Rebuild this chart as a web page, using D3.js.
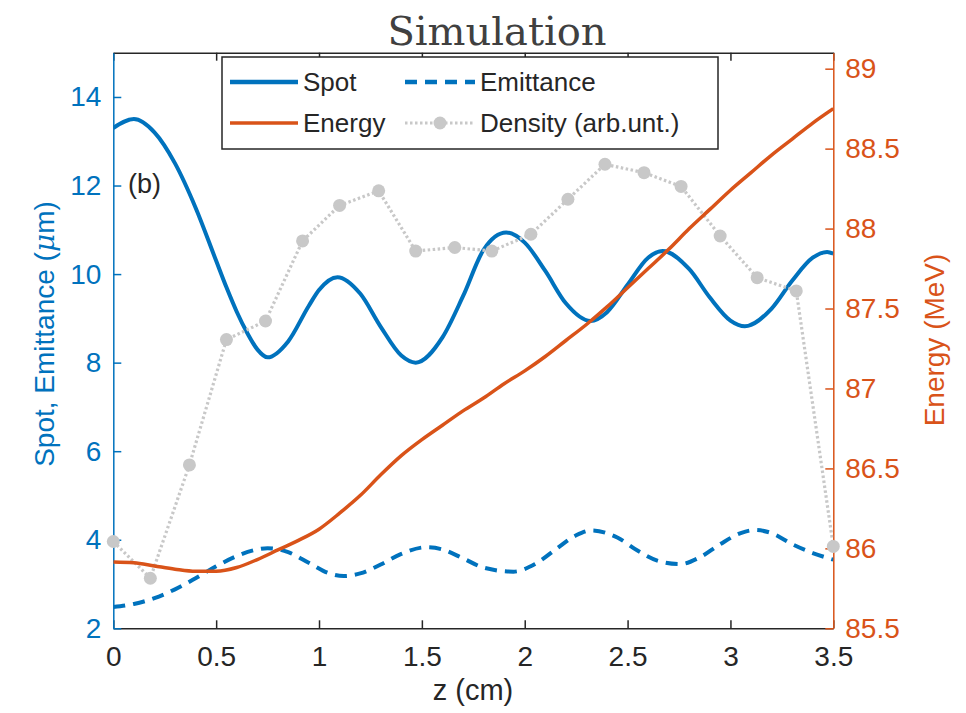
<!DOCTYPE html>
<html><head><meta charset="utf-8">
<script src="https://cdn.jsdelivr.net/npm/d3@7"></script>
<style>body{margin:0;background:#fff}svg{display:block}</style>
</head><body><svg id="c" width="966" height="713"></svg>
<script>
// ---- data ----
const xTicks = [0,0.5,1,1.5,2,2.5,3,3.5];
const xTickLabels = ["0","0.5","1","1.5","2","2.5","3","3.5"];
const leftTicks = [2,4,6,8,10,12,14];
const rightTicks = [85.5,86,86.5,87,87.5,88,88.5,89];
const rightTickLabels = ["85.5","86","86.5","87","87.5","88","88.5","89"];

const spotZ = [0,0.1,0.2,0.3,0.4,0.5,0.55,0.6,0.65,0.7,0.75,0.85,0.95,1.0,1.09,1.2,1.3,1.4,1.47,1.6,1.7,1.8,1.91,2.0,2.1,2.2,2.32,2.4,2.5,2.6,2.67,2.8,2.9,3.0,3.07,3.2,3.3,3.4,3.47,3.5];
const spotV = [13.3,13.5,13.2,12.5,11.5,10.3,9.7,9.15,8.68,8.3,8.12,8.48,9.28,9.64,9.93,9.56,8.81,8.16,8.0,8.57,9.5,10.55,10.94,10.71,10.07,9.34,8.94,9.14,9.76,10.37,10.52,10.11,9.47,8.95,8.82,9.22,9.85,10.37,10.5,10.46];

const emitZ = [0,0.1,0.2,0.3,0.4,0.5,0.6,0.7,0.75,0.85,0.95,1.05,1.12,1.2,1.3,1.4,1.52,1.6,1.7,1.8,1.945,2.05,2.15,2.25,2.325,2.45,2.55,2.65,2.755,2.85,2.95,3.05,3.12,3.2,3.3,3.4,3.5];
const emitV = [2.48,2.55,2.68,2.88,3.13,3.4,3.63,3.78,3.81,3.72,3.48,3.24,3.18,3.24,3.44,3.68,3.83,3.78,3.58,3.37,3.28,3.45,3.78,4.1,4.21,4.05,3.75,3.52,3.45,3.6,3.9,4.15,4.22,4.15,3.9,3.7,3.55];

const energyZ = [0,0.1,0.2,0.3,0.4,0.5,0.6,0.7,0.8,0.9,1.0,1.1,1.2,1.3,1.4,1.5,1.6,1.7,1.8,1.9,2.0,2.1,2.2,2.3,2.4,2.5,2.6,2.7,2.8,2.9,3.0,3.1,3.2,3.3,3.4,3.5];
const energyV = [85.915,85.91,85.89,85.87,85.857,85.857,85.88,85.93,85.99,86.05,86.12,86.22,86.33,86.46,86.58,86.68,86.77,86.86,86.94,87.03,87.11,87.2,87.3,87.4,87.51,87.63,87.75,87.87,88.0,88.12,88.24,88.35,88.46,88.56,88.66,88.75];

const densZ = [0,0.18,0.37,0.55,0.74,0.92,1.1,1.29,1.47,1.66,1.84,2.03,2.21,2.39,2.58,2.76,2.95,3.13,3.32,3.5];
const densV = [3.96,3.13,5.69,8.52,8.94,10.75,11.55,11.88,10.52,10.6,10.52,10.9,11.69,12.48,12.29,11.98,10.86,9.92,9.62,3.85];

// ---- layout ----
const L=113.3, R=833.3, T=52.7, B=628.3;
const BLUE="#0072BD", ORANGE="#D95319", GRAY="#c8c8c8", DARK="#262626";
const FONT="'Liberation Sans', Arial, Helvetica, sans-serif";

const svg = d3.select("#c");
const x = d3.scaleLinear().domain([0,3.5]).range([L,R]);
const yL = d3.scaleLinear().domain([2,15]).range([B,T]);
const yR = d3.scaleLinear().domain([85.5,89.1]).range([B,T]);

svg.append("defs").append("clipPath").attr("id","clip")
  .append("rect").attr("x",L).attr("y",T).attr("width",R-L).attr("height",B-T);

// title
svg.append("text").attr("x",497).attr("y",45).attr("text-anchor","middle")
  .attr("font-family","'DejaVu Serif', serif").attr("font-size",40).attr("fill","#404040")
  .text("Simulation");

// axes
function styleAxis(g,color,labelColor){
  g.selectAll(".domain").attr("stroke",color).attr("stroke-width",1.5);
  g.selectAll(".tick line").attr("stroke",color).attr("stroke-width",1.5);
  g.selectAll(".tick text").attr("fill",labelColor).attr("font-family",FONT).attr("font-size",28);
}
const gx = svg.append("g").attr("transform",`translate(0,${B})`)
  .call(d3.axisBottom(x).tickValues(xTicks).tickFormat((d,i)=>xTickLabels[i]).tickSizeInner(-8).tickSizeOuter(0).tickPadding(18));
styleAxis(gx,DARK,DARK);
const gxt = svg.append("g").attr("transform",`translate(0,${T})`)
  .call(d3.axisTop(x).tickValues(xTicks).tickFormat("").tickSizeInner(-8).tickSizeOuter(0));
styleAxis(gxt,DARK,DARK);
const gl = svg.append("g").attr("transform",`translate(${L},0)`)
  .call(d3.axisLeft(yL).tickValues(leftTicks).tickFormat(d3.format("d")).tickSizeInner(-8).tickSizeOuter(0).tickPadding(12));
styleAxis(gl,BLUE,BLUE);
const gr = svg.append("g").attr("transform",`translate(${R},0)`)
  .call(d3.axisRight(yR).tickValues(rightTicks).tickFormat((d,i)=>rightTickLabels[i]).tickSizeInner(-8).tickSizeOuter(0).tickPadding(12));
styleAxis(gr,ORANGE,ORANGE);

// axis labels
svg.append("text").attr("x",473).attr("y",700).attr("text-anchor","middle")
  .attr("font-family",FONT).attr("font-size",29).attr("fill",DARK).text("z (cm)");
const yl = svg.append("text").attr("transform","translate(54,334) rotate(-90)").attr("text-anchor","middle")
  .attr("font-family",FONT).attr("font-size",28).attr("fill",BLUE);
yl.append("tspan").text("Spot, Emittance (");
yl.append("tspan").attr("font-style","italic").attr("font-family","'DejaVu Serif', serif").text("μ");
yl.append("tspan").text("m)");
svg.append("text").attr("transform","translate(944,340) rotate(-90)").attr("text-anchor","middle")
  .attr("font-family",FONT).attr("font-size",28).attr("fill",ORANGE).text("Energy (MeV)");

// series
const plot = svg.append("g").attr("clip-path","url(#clip)");
const lineL = (zs,vs)=> d3.line().x((d,i)=>x(zs[i])).y(d=>yL(d)).curve(d3.curveMonotoneX)(vs);
plot.append("path").attr("d",lineL(spotZ,spotV)).attr("fill","none").attr("stroke",BLUE).attr("stroke-width",4);
plot.append("path").attr("d",lineL(emitZ,emitV)).attr("fill","none").attr("stroke",BLUE).attr("stroke-width",4)
  .attr("stroke-dasharray","12,8");
const densLine = d3.line().x((d,i)=>x(densZ[i])).y(d=>yL(d));
plot.append("path").attr("d",densLine(densV)).attr("fill","none").attr("stroke",GRAY).attr("stroke-width",3.2)
  .attr("stroke-dasharray","2.5,2.5");
svg.append("g").selectAll("circle").data(densV).join("circle")
  .attr("cx",(d,i)=>x(densZ[i])).attr("cy",d=>yL(d)).attr("r",6.5).attr("fill",GRAY);
const lineR = d3.line().x((d,i)=>x(energyZ[i])).y(d=>yR(d)).curve(d3.curveMonotoneX);
plot.append("path").attr("d",lineR(energyV)).attr("fill","none").attr("stroke",ORANGE).attr("stroke-width",3.5);

// panel label
svg.append("text").attr("x",128).attr("y",193).attr("font-family",FONT).attr("font-size",27).attr("fill",DARK).text("(b)");

// legend
const lg = svg.append("g");
lg.append("rect").attr("x",222).attr("y",57).attr("width",496).attr("height",92)
  .attr("fill","#fff").attr("stroke",DARK).attr("stroke-width",1.5);
const items = [
  {t:"Spot",x1:230,x2:298,tx:303,y:82,c:BLUE,w:4.5,dash:null},
  {t:"Emittance",x1:405,x2:475,tx:480,y:82,c:BLUE,w:4.5,dash:"12,8"},
  {t:"Energy",x1:230,x2:298,tx:303,y:123,c:ORANGE,w:3.5,dash:null},
  {t:"Density (arb.unt.)",x1:405,x2:475,tx:480,y:123,c:GRAY,w:3.2,dash:"2.5,2.5",m:true}
];
items.forEach(it=>{
  lg.append("line").attr("x1",it.x1).attr("x2",it.x2).attr("y1",it.y).attr("y2",it.y)
    .attr("stroke",it.c).attr("stroke-width",it.w).attr("stroke-dasharray",it.dash);
  if(it.m) lg.append("circle").attr("cx",(it.x1+it.x2)/2).attr("cy",it.y).attr("r",6.5).attr("fill",GRAY);
  lg.append("text").attr("x",it.tx).attr("y",it.y+9).attr("font-family",FONT).attr("font-size",26)
    .attr("fill",DARK).text(it.t);
});
</script></body></html>
